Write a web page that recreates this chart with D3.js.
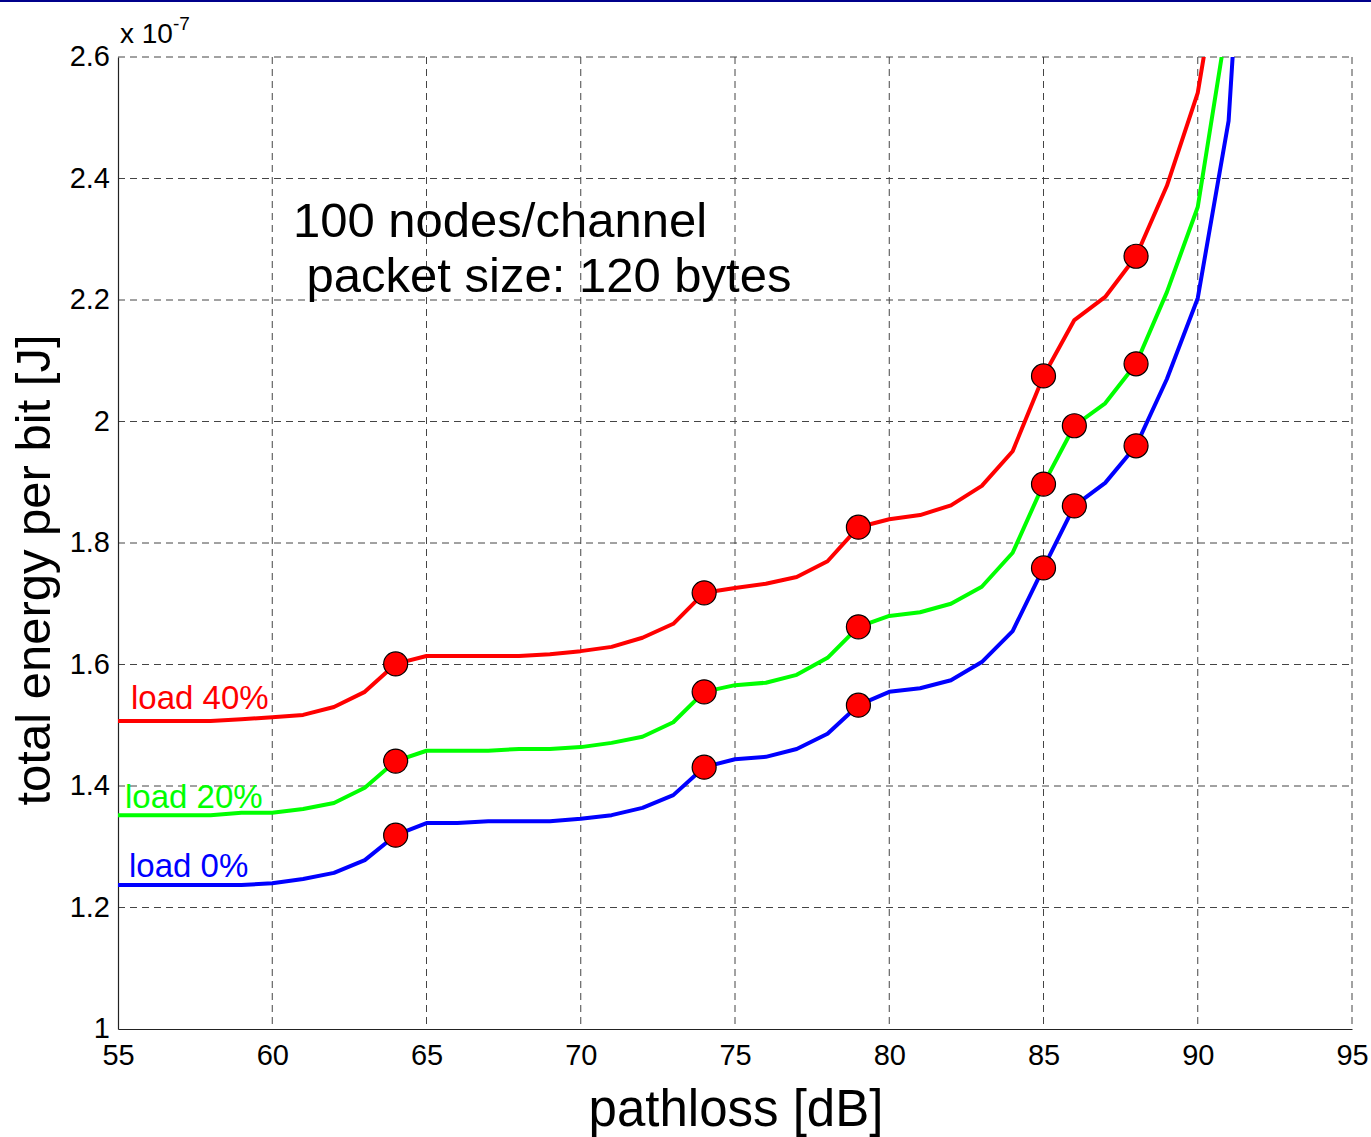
<!DOCTYPE html>
<html lang="en">
<head>
  <meta charset="UTF-8">
  <title>Total energy per bit vs pathloss</title>
  <script src="https://d3js.org/d3.v7.min.js"></script>
  <style>
    body {
      margin: 0;
      padding: 0;
      background: #fff;
      font-family: "Liberation Sans", Arial, sans-serif;
    }
    .grid line {
      stroke: #444;
      stroke-width: 1;
      stroke-dasharray: 7 5;
    }
    .tick text {
      font-size: 29px;
      fill: #000;
    }
  </style>
</head>
<body>
  <div id="chart"></div>

  <script>
    const pathloss = [55, 56, 57, 58, 59, 60, 61, 62, 63, 64, 65, 66, 67, 68, 69, 70, 71, 72, 73,
      74, 75, 76, 77, 78, 79, 80, 81, 82, 83, 84, 85, 86, 87, 88, 89, 90, 91, 92];

    // values in units of 1e-7 J
    const load0 = [1.237, 1.237, 1.237, 1.237, 1.237, 1.240, 1.247, 1.257, 1.278, 1.319, 1.339, 1.339,
      1.342, 1.342, 1.342, 1.346, 1.352, 1.364, 1.385, 1.431, 1.444, 1.448, 1.461, 1.486, 1.533,
      1.555, 1.561, 1.574, 1.604, 1.655, 1.759, 1.861, 1.899, 1.960, 2.070, 2.203, 2.495, 3.300];
    const load20 = [1.352, 1.352, 1.352, 1.352, 1.356, 1.356, 1.362, 1.372, 1.397, 1.441, 1.458, 1.458,
      1.458, 1.461, 1.461, 1.464, 1.471, 1.481, 1.505, 1.555, 1.566, 1.570, 1.583, 1.611, 1.662,
      1.680, 1.686, 1.700, 1.728, 1.784, 1.897, 1.993, 2.030, 2.095, 2.213, 2.353, 2.672, 3.100];
    const load40 = [1.507, 1.507, 1.507, 1.507, 1.510, 1.513, 1.517, 1.530, 1.555, 1.601, 1.614, 1.614,
      1.614, 1.614, 1.617, 1.622, 1.629, 1.644, 1.667, 1.718, 1.726, 1.733, 1.744, 1.770, 1.826,
      1.839, 1.846, 1.862, 1.894, 1.951, 2.075, 2.167, 2.205, 2.272, 2.388, 2.541, 2.845, 3.200];

    const markers0 = [64, 74, 79, 85, 86, 88];
    const markers20 = [64, 74, 79, 85, 86, 88];
    const markers40 = [64, 74, 79, 85, 88];

    const xTicks = [55, 60, 65, 70, 75, 80, 85, 90, 95];
    const yTicks = [1, 1.2, 1.4, 1.6, 1.8, 2, 2.2, 2.4, 2.6];

    const series = [
      { name: "load 0%", values: load0, markers: markers0, color: "#0000ff", lx: 129, ly: 877 },
      { name: "load 20%", values: load20, markers: markers20, color: "#00ff00", lx: 125, ly: 808 },
      { name: "load 40%", values: load40, markers: markers40, color: "#ff0000", lx: 131, ly: 709 }
    ];

    const W = 1371, H = 1137;
    const plotL = 118, plotR = 1352, plotT = 57, plotB = 1029;

    const svg = d3.select("#chart")
      .append("svg")
      .attr("width", W)
      .attr("height", H)
      .style("display", "block");

    // thin dark blue frame line at the very top
    svg.append("rect")
      .attr("x", 0).attr("y", 0)
      .attr("width", W).attr("height", 2)
      .attr("fill", "#00008b");

    const x = d3.scaleLinear().domain([55, 95]).range([plotL, plotR]);
    const y = d3.scaleLinear().domain([1, 2.6]).range([plotB, plotT]);

    // grid
    const grid = svg.append("g").attr("class", "grid");
    grid.selectAll(".gx")
      .data(xTicks.slice(1))
      .join("line")
      .attr("x1", d => x(d)).attr("x2", d => x(d))
      .attr("y1", plotT).attr("y2", plotB);
    grid.selectAll(".gy")
      .data(yTicks.slice(1))
      .join("line")
      .attr("x1", plotL).attr("x2", plotR)
      .attr("y1", d => y(d)).attr("y2", d => y(d));

    // axes
    const xAxis = svg.append("g")
      .attr("transform", `translate(0,${plotB})`)
      .call(d3.axisBottom(x).tickValues(xTicks).tickSize(0).tickPadding(14).tickFormat(d3.format("d")));
    xAxis.select(".domain").attr("stroke", "#222").attr("stroke-width", 1.2);

    const yAxis = svg.append("g")
      .attr("transform", `translate(${plotL},0)`)
      .call(d3.axisLeft(y).tickValues(yTicks).tickSize(0).tickPadding(8).tickFormat(d => String(+d.toFixed(1))));
    yAxis.select(".domain").attr("stroke", "#222").attr("stroke-width", 1.2);
    yAxis.selectAll(".tick text").attr("dy", "0.3em");
    xAxis.selectAll(".tick text").attr("dy", "0.75em");

    // clip for lines
    svg.append("clipPath").attr("id", "plot-clip")
      .append("rect")
      .attr("x", plotL).attr("y", plotT)
      .attr("width", plotR - plotL).attr("height", plotB - plotT);

    const line = d3.line()
      .x((d, i) => x(pathloss[i]))
      .y(d => y(d));

    const plot = svg.append("g").attr("clip-path", "url(#plot-clip)");

    series.forEach(s => {
      plot.append("path")
        .datum(s.values)
        .attr("fill", "none")
        .attr("stroke", s.color)
        .attr("stroke-width", 4)
        .attr("stroke-linejoin", "round")
        .attr("d", line);
    });

    series.forEach(s => {
      svg.append("g")
        .selectAll("circle")
        .data(s.markers)
        .join("circle")
        .attr("cx", d => x(d))
        .attr("cy", d => y(s.values[pathloss.indexOf(d)]))
        .attr("r", 12)
        .attr("fill", "#ff0000")
        .attr("stroke", "#000")
        .attr("stroke-width", 1.2);

      svg.append("text")
        .attr("x", s.lx)
        .attr("y", s.ly)
        .attr("fill", s.color)
        .style("font-size", "33px")
        .text(s.name);
    });

    // annotation
    svg.append("text")
      .attr("x", 293).attr("y", 237)
      .style("font-size", "49px")
      .text("100 nodes/channel");
    svg.append("text")
      .attr("x", 293).attr("y", 292)
      .style("font-size", "49px")
      .style("white-space", "pre")
      .text(" packet size: 120 bytes");

    // exponent
    const exp = svg.append("text")
      .attr("x", 120).attr("y", 43)
      .style("font-size", "28px");
    exp.append("tspan").text("x 10");
    exp.append("tspan").attr("dy", -13).style("font-size", "19px").text("-7");

    // axis labels
    svg.append("text")
      .attr("x", 736)
      .attr("y", 1126)
      .attr("text-anchor", "middle")
      .style("font-size", "51px")
      .text("pathloss [dB]");

    svg.append("text")
      .attr("transform", "translate(50,570) rotate(-90)")
      .attr("text-anchor", "middle")
      .style("font-size", "49px")
      .text("total energy per bit [J]");
  </script>
</body>
</html>
